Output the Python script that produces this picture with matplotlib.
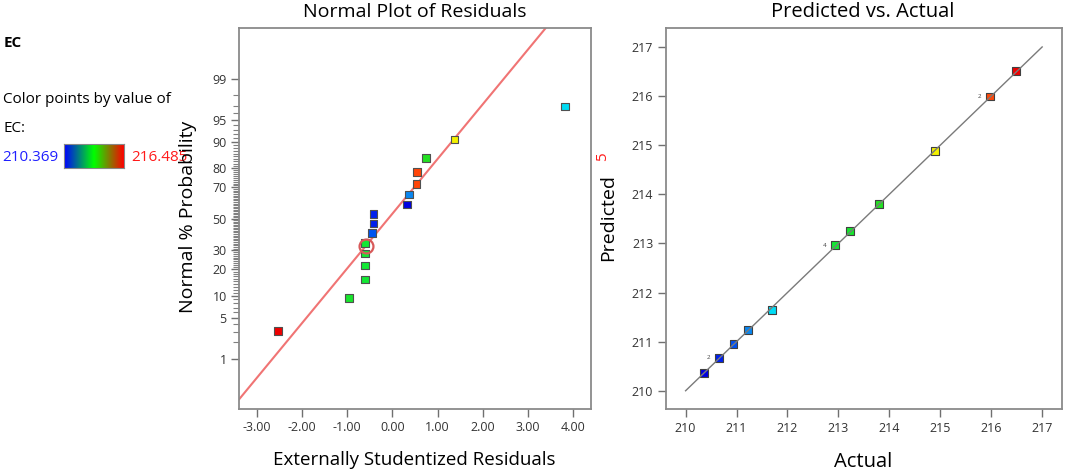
import numpy as np
import matplotlib
matplotlib.use("Agg")
import matplotlib.pyplot as plt
from matplotlib.colors import LinearSegmentedColormap
from matplotlib.ticker import FixedLocator, FormatStrFormatter
from statistics import NormalDist

plt.rcParams["font.family"] = ["Open Sans", "DejaVu Sans"]

# normal plot of residuals (16 runs)
residuals = [-2.536, -0.96, -0.606, -0.606, -0.606, -0.606, -0.445, -0.414,
             -0.414, 0.322, 0.366, 0.536, 0.542, 0.742, 1.37, 3.815]
normal_prob = [3.1, 9.4, 15.6, 21.9, 28.1, 34.4, 40.6, 46.9,
               53.1, 59.4, 65.6, 71.9, 78.1, 84.4, 90.6, 96.9]
resid_ec = [216.485, 213.25, 212.95, 212.95, 212.95, 212.95, 210.95, 210.67,
            210.67, 210.369, 211.23, 216.0, 216.0, 213.8, 214.9, 211.7]
fit_intercept = 0.085   # in z units
fit_slope = 0.91
highlight = (-0.59, 32.7)

# predicted vs actual (unique points)
actual = [210.36, 210.66, 210.94, 211.23, 211.69, 212.94, 213.23, 213.80, 214.89, 215.98, 216.48]
predicted = [210.37, 210.67, 210.96, 211.23, 211.64, 212.96, 213.26, 213.80, 214.88, 215.99, 216.51]
replicates = [1, 2, 1, 1, 1, 4, 1, 1, 1, 2, 1]

ec_min, ec_max = 210.369, 216.485
prob_ticks = [1, 5, 10, 20, 30, 50, 70, 80, 90, 95, 99]
resid_ticks = [-3, -2, -1, 0, 1, 2, 3, 4]
pva_ticks = [210, 211, 212, 213, 214, 215, 216, 217]

point_cmap = LinearSegmentedColormap.from_list("ec", [
    (0.0, "#0000e0"), (0.05, "#0022ee"), (0.095, "#0055f0"), (0.14, "#0a85f0"),
    (0.22, "#00e0f4"), (0.42, "#12e834"), (0.56, "#22e022"), (0.74, "#f2f200"),
    (0.92, "#ff4608"), (1.0, "#ee0000")])
bar_cmap = LinearSegmentedColormap.from_list("bar", ["#0000ff", "#00ff00", "#ff0000"])

nd = NormalDist()


def prob_to_z(p):
    p = np.clip(np.asarray(p, dtype=float) / 100.0, 1e-9, 1 - 1e-9)
    return np.vectorize(nd.inv_cdf, otypes=[float])(p)


def z_to_prob(z):
    return 100.0 * np.vectorize(nd.cdf, otypes=[float])(np.asarray(z, dtype=float))


def ec_color(v):
    return point_cmap((v - ec_min) / (ec_max - ec_min))


def style_axes(ax):
    for s in ax.spines.values():
        s.set_color("#8a8a8a")
        s.set_linewidth(1.3)
    ax.tick_params(which="major", direction="out", length=6, width=1,
                   color="#707070", labelcolor="#333333", labelsize=9, pad=3)
    ax.tick_params(which="minor", direction="out", length=4, width=0.8, color="#808080")


fig = plt.figure(figsize=(10.65, 4.76), dpi=100)

# ---- left: normal plot of residuals
ax1 = fig.add_axes([0.2247, 0.1408, 0.3302, 0.8004])
ax1.set_yscale("function", functions=(prob_to_z, z_to_prob))
ax1.set_xlim(-3.385, 4.39)
ax1.set_ylim(float(z_to_prob(-3.16)), float(z_to_prob(3.17)))
ax1.yaxis.set_major_locator(FixedLocator(prob_ticks))
ax1.yaxis.set_major_formatter(FormatStrFormatter("%d"))
ax1.yaxis.set_minor_locator(FixedLocator([p for p in range(2, 99) if p not in prob_ticks]))
ax1.xaxis.set_major_locator(FixedLocator(resid_ticks))
ax1.xaxis.set_major_formatter(FormatStrFormatter("%.2f"))
style_axes(ax1)

line_x = np.array([-3.385, 3.45])
ax1.plot(line_x, z_to_prob(fit_intercept + fit_slope * line_x), color="#f07474", lw=1.5, zorder=2)
ax1.scatter(residuals, normal_prob, marker="s", s=30, c=[ec_color(v) for v in resid_ec],
            edgecolors="#505050", linewidths=0.8, zorder=3)
ax1.plot(*highlight, marker="o", ms=10, mfc="none", mec="#d85a5a", mew=1.6, zorder=4)

# ---- right: predicted vs actual
ax2 = fig.add_axes([0.6251, 0.1399, 0.3721, 0.8017])
ax2.set_xlim(209.61, 217.39)
ax2.set_ylim(209.62, 217.39)
ax2.xaxis.set_major_locator(FixedLocator(pva_ticks))
ax2.yaxis.set_major_locator(FixedLocator(pva_ticks))
style_axes(ax2)
ax2.scatter(actual, predicted, marker="s", s=32, c=[ec_color(v) for v in actual],
            edgecolors="#404040", linewidths=0.8, zorder=2)
ax2.plot([pva_ticks[0], pva_ticks[-1]], [pva_ticks[0], pva_ticks[-1]], color="#7a7a7a", lw=1.0, zorder=3)
for xa, yp, n in zip(actual, predicted, replicates):
    if n > 1:
        ax2.annotate(str(n), (xa, yp), xytext=(-8, 0), textcoords="offset points",
                     fontsize=4.5, color="#444444", ha="center", va="center")

# ---- titles and labels
fig.text(0.389, 0.975, "Normal Plot of Residuals", ha="center", va="center", fontsize=14)
fig.text(0.389, 0.034, "Externally Studentized Residuals", ha="center", va="center", fontsize=13.5)
fig.text(0.1765, 0.545, "Normal % Probability", ha="center", va="center", rotation=90, fontsize=14)
fig.text(0.8103, 0.975, "Predicted vs. Actual", ha="center", va="center", fontsize=14.5)
fig.text(0.8103, 0.030, "Actual", ha="center", va="center", fontsize=14.5)
fig.text(0.571, 0.543, "Predicted", ha="center", va="center", rotation=90, fontsize=14)

# ---- colour legend on the left
fig.text(0.003, 0.909, "EC", ha="left", va="center", fontsize=11, fontweight="bold")
fig.text(0.003, 0.790, "Color points by value of", ha="left", va="center", fontsize=11)
fig.text(0.003, 0.731, "EC:", ha="left", va="center", fontsize=11)
fig.text(0.002, 0.670, f"{ec_min:.3f}", ha="left", va="center", fontsize=11, color="#2020ff")
fig.text(0.123, 0.670, f"{ec_max:.3f}", ha="left", va="center", fontsize=11, color="#ff1a1a", zorder=0)
cax = fig.add_axes([64 / 1065, 1 - 168 / 476, 60 / 1065, 24 / 476])
cax.imshow(np.linspace(0, 1, 256)[None, :], aspect="auto", cmap=bar_cmap)
cax.set_xticks([])
cax.set_yticks([])
for s in cax.spines.values():
    s.set_color("#888888")
fig.text(0.566, 0.670, "5", ha="center", va="center", fontsize=11, color="#ff1a1a", rotation=90)

fig.savefig("out.png", dpi=100)
